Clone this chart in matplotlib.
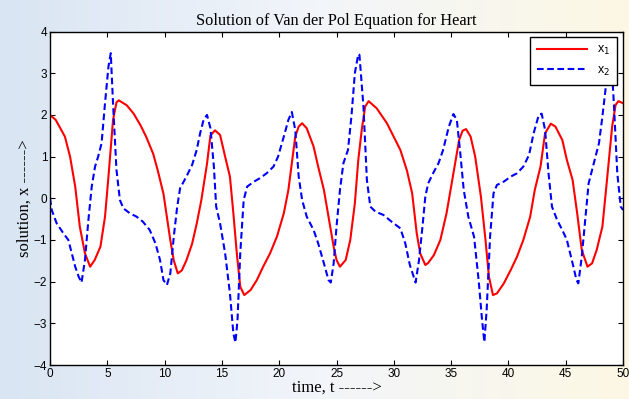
import matplotlib
matplotlib.use("Agg")
import matplotlib.pyplot as plt
import numpy as np
from matplotlib.colors import LinearSegmentedColormap

# x1 (red, solid)
t1 = [0.0, 0.5, 1.3, 1.75, 2.2, 2.6, 3.05, 3.5, 3.9, 4.4, 4.8, 5.1, 5.5, 5.8, 6.0,
      6.7, 7.3, 7.9, 8.4, 9.0, 9.4, 9.9, 10.2, 10.5, 10.8, 11.15, 11.5, 11.9, 12.4,
      12.8, 13.2, 13.7, 14.0, 14.4, 14.84, 15.28, 15.7, 16.0, 16.3, 16.6, 16.95,
      17.5, 18.05, 18.6, 19.2, 19.8, 20.4, 20.8, 21.1, 21.4, 21.7, 22.0, 22.4, 23.0,
      23.4, 23.9, 24.3, 24.75, 25.0, 25.3, 25.8, 26.2, 26.6, 26.9, 27.2, 27.5, 27.8,
      28.5, 29.4, 30.57, 31.15, 31.6, 32.0, 32.3, 32.75, 33.0, 33.5, 34.06, 34.6,
      35.1, 35.4, 35.7, 36.0, 36.3, 36.7, 37.1, 37.6, 38.0, 38.3, 38.65, 39.0, 39.6,
      40.2, 40.75, 41.3, 41.9, 42.3, 42.8, 43.2, 43.7, 44.1, 44.7, 45.1, 45.6, 46.0,
      46.4, 46.9, 47.3, 47.7, 48.2, 48.6, 49.05, 49.35, 49.6, 50.0]
x1 = [2.0, 1.88, 1.48, 1.0, 0.28, -0.68, -1.32, -1.64, -1.48, -1.16, -0.44, 0.52,
      1.88, 2.3, 2.35, 2.23, 2.03, 1.75, 1.47, 1.07, 0.67, 0.11, -0.45, -1.01, -1.49,
      -1.8, -1.73, -1.49, -1.09, -0.61, -0.05, 0.83, 1.51, 1.63, 1.52, 1.0, 0.52,
      -0.36, -1.32, -2.12, -2.32, -2.2, -1.96, -1.64, -1.32, -0.92, -0.36, 0.2, 0.84,
      1.48, 1.72, 1.8, 1.68, 1.24, 0.76, 0.2, -0.44, -1.16, -1.48, -1.64, -1.48, -1.0,
      -0.12, 0.92, 1.64, 2.2, 2.33, 2.16, 1.8, 1.16, 0.66, 0.12, -0.84, -1.32, -1.6,
      -1.55, -1.36, -1.0, -0.36, 0.44, 0.92, 1.4, 1.62, 1.66, 1.48, 1.0, 0.04, -1.0,
      -1.88, -2.32, -2.28, -2.04, -1.72, -1.4, -1.0, -0.44, 0.2, 0.76, 1.56, 1.79,
      1.72, 1.4, 0.92, 0.44, -0.36, -1.24, -1.64, -1.56, -1.24, -0.68, 0.44, 1.72,
      2.24, 2.33, 2.28]

# x2 (blue, dashed)
t2 = [0.0, 0.15, 0.58, 1.17, 1.6, 1.9, 2.2, 2.5, 2.75, 3.05, 3.35, 3.64, 3.93, 4.2,
      4.5, 4.8, 5.1, 5.3, 5.5, 5.8, 6.1, 6.4, 6.97, 7.55, 8.1, 8.7, 9.2, 9.6, 9.9,
      10.2, 10.5, 10.8, 11.1, 11.35, 11.9, 12.4, 12.8, 13.1, 13.4, 13.7, 14.0, 14.3,
      14.5, 14.84, 15.28, 15.7, 16.0, 16.18, 16.36, 16.6, 16.9, 17.2, 17.8, 18.3,
      18.9, 19.5, 19.9, 20.4, 20.8, 21.1, 21.4, 21.7, 22.0, 22.4, 23.0, 23.4, 23.9,
      24.3, 24.5, 24.75, 25.0, 25.3, 25.6, 26.0, 26.3, 26.6, 26.9, 27.0, 27.35, 27.65,
      27.95, 28.4, 29.1, 29.8, 30.57, 31.0, 31.4, 31.9, 32.2, 32.5, 32.75, 33.0, 33.5,
      33.9, 34.3, 34.8, 35.2, 35.5, 35.8, 36.1, 36.5, 37.0, 37.4, 37.7, 37.9, 38.1,
      38.4, 38.7, 39.0, 39.6, 40.2, 40.75, 41.3, 41.8, 42.2, 42.65, 42.9, 43.2, 43.5,
      43.8, 44.25, 44.7, 45.1, 45.6, 45.94, 46.1, 46.4, 46.7, 47.0, 47.45, 47.9, 48.2,
      48.5, 48.8, 48.95, 49.2, 49.5, 49.8, 50.0]
x2 = [0.0, -0.28, -0.6, -0.84, -1.0, -1.32, -1.64, -1.88, -2.02, -1.48, -0.52, 0.28,
      0.76, 1.0, 1.32, 2.28, 3.16, 3.48, 2.28, 0.68, -0.04, -0.24, -0.36, -0.44, -0.56,
      -0.76, -1.08, -1.48, -1.96, -2.08, -1.8, -0.92, -0.2, 0.24, 0.52, 0.8, 1.16,
      1.56, 1.88, 2.0, 1.68, 0.76, -0.2, -0.6, -1.32, -2.28, -3.24, -3.46, -2.92,
      -1.32, -0.04, 0.28, 0.4, 0.48, 0.6, 0.76, 1.0, 1.48, 1.88, 2.07, 1.64, 0.52,
      -0.04, -0.44, -0.76, -1.08, -1.56, -1.96, -2.02, -1.56, -0.68, 0.2, 0.84, 1.16,
      1.96, 3.0, 3.46, 3.44, 2.2, 0.44, -0.2, -0.32, -0.4, -0.56, -0.72, -1.08, -1.6,
      -2.02, -1.48, -0.68, 0.04, 0.36, 0.64, 0.84, 1.16, 1.72, 2.02, 1.88, 1.08, 0.2,
      -0.44, -0.92, -1.96, -2.92, -3.45, -2.68, -0.92, 0.12, 0.32, 0.4, 0.52, 0.6,
      0.76, 1.04, 1.56, 2.0, 2.03, 1.64, 0.6, -0.2, -0.52, -0.76, -1.0, -1.56, -1.96,
      -2.04, -1.4, -0.52, 0.36, 0.84, 1.32, 1.96, 2.68, 3.24, 3.46, 2.28, 0.6, -0.2,
      -0.28]

serif = ["Liberation Serif", "DejaVu Serif"]
sans = ["Liberation Sans", "DejaVu Sans"]

fig = plt.figure(figsize=(6.29, 3.99), dpi=100)

# faint blue-to-cream backdrop like the slide behind the chart
bg = fig.add_axes([0, 0, 1, 1], zorder=-10)
cmap = LinearSegmentedColormap.from_list("bg", ["#d9e5f3", "#f2f5fa", "#fdf8e4"])
bg.imshow(np.linspace(0, 1, 256)[None, :], aspect="auto", cmap=cmap,
          extent=[0, 1, 0, 1])
bg.axis("off")

ax = fig.add_axes([0.0795, 0.085, 0.911, 0.836])
ax.set_facecolor("white")
ax.plot(t1, x1, color="#ff0000", lw=1.5, label="x$_1$")
ax.plot(t2, x2, color="#0000ff", lw=1.5, ls=(0, (3.2, 1.7)), label="x$_2$")

ax.set_xlim(0, 50)
ax.set_ylim(-4, 4)
ax.set_xticks(range(0, 51, 5))
ax.set_yticks(range(-4, 5))
ax.tick_params(direction="in", top=True, right=True, length=3.5, width=0.8,
               labelsize=8.5, pad=2)
for lab in ax.get_xticklabels() + ax.get_yticklabels():
    lab.set_family(sans)
for s in ax.spines.values():
    s.set_linewidth(1.0)

ax.set_title("Solution of Van der Pol Equation for Heart", family=serif,
             fontsize=11.8, pad=5)
ax.set_xlabel("time, t ------>", family=serif, fontsize=12, labelpad=0)
ax.set_ylabel("solution, x ------>", family=serif, fontsize=12, labelpad=1)

leg = ax.legend(loc="upper right", bbox_to_anchor=(0.99, 0.983),
                borderaxespad=0, fancybox=False, framealpha=1,
                edgecolor="black", prop={"family": sans, "size": 9},
                handlelength=4.0, borderpad=0.55, labelspacing=0.6)
leg.get_frame().set_linewidth(1.0)

fig.savefig("out.png", dpi=100)
